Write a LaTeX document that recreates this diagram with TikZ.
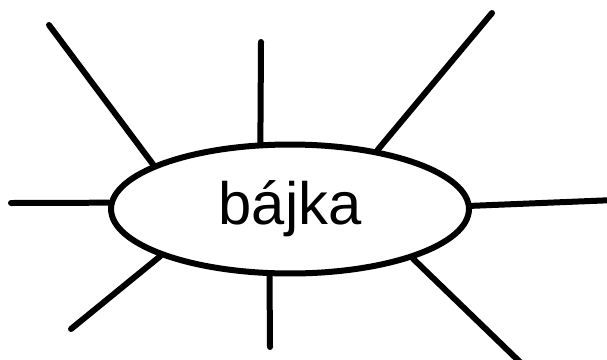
\documentclass[tikz,border=0pt]{standalone}
\usepackage{fontspec}
\setmainfont{Liberation Sans}
\usetikzlibrary{shapes.geometric}

\begin{document}
\begin{tikzpicture}[
    x=0.02cm, y=-0.02cm,
    bubble/.style={
        ellipse,
        draw=black,
        fill=white,
        line width=0.12cm,
        minimum width=7.16cm,
        minimum height=2.58cm,
        inner sep=0pt,
        font=\fontsize{34}{40}\selectfont
    },
    ray/.style={
        black,
        line width=0.12cm,
        line cap=round
    }
]
\clip (0,0) rectangle (607,359);
% Central word
\node[bubble] (bajka) at (290,209) {bájka};
% Free ends of the rays
\coordinate (tl) at (49,25);
\coordinate (top) at (261,42);
\coordinate (tr) at (492,13);
\coordinate (left) at (11,203);
\coordinate (right) at (615,200);
\coordinate (bl) at (71,329);
\coordinate (bottom) at (270,347);
\coordinate (br) at (522,364);
% Rays
\draw[ray] (tl) -- (bajka.162);
\draw[ray] (top) -- (bajka.114);
\draw[ray] (tr) -- (bajka.34);
\draw[ray] (left) -- (bajka.178);
\draw[ray] (right) -- (bajka.1.5);
\draw[ray] (bl) -- (bajka.200);
\draw[ray] (bottom) -- (bajka.253);
\draw[ray] (br) -- (bajka.338);
\end{tikzpicture}
\end{document}
